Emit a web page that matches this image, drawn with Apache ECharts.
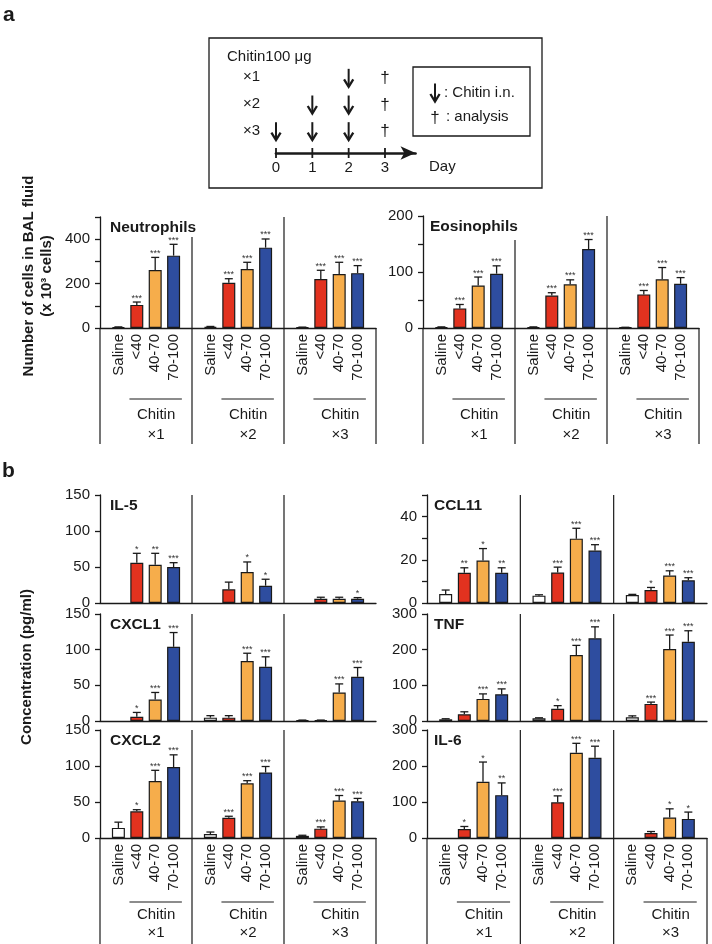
<!DOCTYPE html>
<html><head><meta charset="utf-8">
<script src="https://cdn.jsdelivr.net/npm/echarts@6/dist/echarts.min.js"></script>
<style>html,body{margin:0;padding:0;background:#fff}#c{width:712px;height:944px}</style>
</head><body><div id="c"></div>
<script>
// ---------- data ----------
const categories = ['Saline', '<40', '40-70', '70-100'];
const groupLabels = ['×1', '×2', '×3'];
const barColors = ['#ffffff', '#e2321f', '#f6ad4b', '#2e4d9f'];

// schematic
const rowLabels = ['×1', '×2', '×3'];
const injectionDays = [[2], [1, 2], [0, 1, 2]];
const analysisDay = 3;
const dayTicks = [0, 1, 2, 3];

// panel a (x10^3 cells)
const neutroMean = [4, 104, 261, 326, 5, 204, 266, 362, 3, 221, 243, 247];
const neutroErr  = [1, 13, 57, 51, 2, 18, 30, 39, 1, 39, 53, 34];
const neutroStars = ['', '***', '***', '***', '', '***', '***', '***', '', '***', '***', '***'];

const eosinoMean = [1.5, 35, 76, 97, 1.5, 58, 78, 141, 1, 60, 87, 79];
const eosinoErr  = [0.5, 7, 15, 14, 0.5, 5, 8, 17, 0.3, 7, 21, 11];
const eosinoStars = ['', '***', '***', '***', '', '***', '***', '***', '', '***', '***', '***'];

// panel b (pg/ml)
const il5Mean = [null, 56, 53, 50, null, 19, 43, 24, null, 6, 6, 6];
const il5Err  = [0, 13, 16, 6, 0, 10, 14, 9, 0, 2, 2, 1.5];
const il5Stars = ['', '*', '**', '***', '', '', '*', '*', '', '', '', '*'];

const ccl11Mean = [4.2, 14, 19.7, 14, 3.4, 14.1, 29.8, 24.3, 3.7, 6, 12.7, 10.5];
const ccl11Err  = [1.8, 2.3, 5.5, 2.3, 0.4, 2.5, 4.8, 2.7, 0.3, 1.2, 2.2, 1.2];
const ccl11Stars = ['', '**', '*', '**', '', '***', '***', '***', '', '*', '***', '***'];

const cxcl1Mean = [null, 6, 30, 104, 4.7, 4.7, 84, 76, 1, 1, 40, 62];
const cxcl1Err  = [0, 6, 10, 20, 2.8, 2.8, 11, 14, 0.3, 0.3, 12, 13];
const cxcl1Stars = ['', '*', '***', '***', '', '', '***', '***', '', '', '***', '***'];

const tnfMean = [4.8, 18.8, 62, 75, 7.5, 34, 185, 232, 10.4, 48, 202, 222];
const tnfErr  = [1.5, 7, 14, 15, 1.5, 9, 27, 32, 4, 5, 39, 31];
const tnfStars = ['', '', '***', '***', '', '*', '***', '***', '', '***', '***', '***'];

const cxcl2Mean = [14, 37, 79, 98.5, 5.5, 28, 76, 91, 3, 13, 52, 51];
const cxcl2Err  = [8, 2.3, 15, 17, 2.8, 2.2, 3.6, 8.3, 0.8, 2.4, 7, 4];
const cxcl2Stars = ['', '*', '***', '***', '', '***', '***', '***', '', '***', '***', '***'];

const il6Mean = [null, 25, 156, 119, null, 99, 237, 223, null, 14, 57, 53];
const il6Err  = [0, 7, 55, 34, 0, 18, 26, 32, 0, 4, 24, 19];
const il6Stars = ['', '*', '*', '**', '', '***', '***', '***', '', '', '*', '*'];

// ---------- layout ----------
const FONT = "'Liberation Sans', Arial, Helvetica, sans-serif";
const INK = '#1a1a1a';

const panels = [
  {title:'Neutrophils', mean:neutroMean, err:neutroErr, stars:neutroStars, left:100, top:217, width:276, height:111, max:500, interval:100, labelStep:200, titleGap:20, xLabels:true, lineEnd:444, offs:[71, 87, 107]},
  {title:'Eosinophils', mean:eosinoMean, err:eosinoErr, stars:eosinoStars, left:423, top:216, width:276, height:112, max:200, interval:50, labelStep:100, titleGap:24, xLabels:true, lineEnd:444, offs:[71, 87, 107]},
  {title:'IL-5', mean:il5Mean, err:il5Err, stars:il5Stars, left:100, top:495, width:276, height:108, max:150, interval:50, labelStep:50, titleGap:0, xLabels:false},
  {title:'CCL11', mean:ccl11Mean, err:ccl11Err, stars:ccl11Stars, left:427, top:495, width:280, height:108, max:50, interval:10, labelStep:20, titleGap:0, xLabels:false},
  {title:'CXCL1', mean:cxcl1Mean, err:cxcl1Err, stars:cxcl1Stars, left:100, top:614, width:276, height:107, max:150, interval:50, labelStep:50, titleGap:0, xLabels:false},
  {title:'TNF', mean:tnfMean, err:tnfErr, stars:tnfStars, left:427, top:614, width:280, height:107, max:300, interval:100, labelStep:100, titleGap:0, xLabels:false},
  {title:'CXCL2', mean:cxcl2Mean, err:cxcl2Err, stars:cxcl2Stars, left:100, top:730, width:276, height:108, max:150, interval:50, labelStep:50, titleGap:0, xLabels:true, lineEnd:944, offs:[64, 77, 95]},
  {title:'IL-6', mean:il6Mean, err:il6Err, stars:il6Stars, left:427, top:730, width:280, height:108, max:300, interval:100, labelStep:100, titleGap:0, xLabels:true, lineEnd:944, offs:[64, 77, 95]}
];

function xPos(k) { return Math.floor(k / 4) * 5 + (k % 4) + 1; }

const grids = [], xAxes = [], yAxes = [], series = [], graphics = [];

panels.forEach((P, i) => {
  grids.push({left:P.left, top:P.top, width:P.width, height:P.height, containLabel:false});
  xAxes.push({
    gridIndex:i, type:'value', min:0, max:15, interval:1,
    axisLine:{show:true, onZero:false, lineStyle:{color:INK, width:1.3}},
    axisTick:{show:false}, splitLine:{show:false},
    axisLabel:{show:P.xLabels, rotate:90, margin:6, fontSize:15, fontFamily:FONT, color:INK, hideOverlap:false,
      formatter:(v) => { if (!Number.isInteger(v)) return ''; const j = v % 5 - 1; return (j >= 0 && j < 4) ? categories[j] : ''; }}
  });
  yAxes.push({
    gridIndex:i, type:'value', min:0, max:P.max, interval:P.interval,
    axisLine:{show:true, lineStyle:{color:INK, width:1.3}},
    axisTick:{show:true, length:5, lineStyle:{color:INK, width:1.3}},
    splitLine:{show:false},
    axisLabel:{margin:10, fontSize:15, fontFamily:FONT, color:INK,
      formatter:(v) => (v % P.labelStep === 0 ? String(v) : '')}
  });
  // bars
  series.push({
    type:'bar', xAxisIndex:i, yAxisIndex:i, barWidth:13, silent:true, z:2,
    itemStyle:{borderColor:INK, borderWidth:1.2},
    data:P.mean.map((v, k) => v == null ? null : {value:[xPos(k), v], itemStyle:{color:barColors[k % 4]}}).filter(d => d)
  });
  // error bars + significance
  series.push({
    type:'custom', xAxisIndex:i, yAxisIndex:i, silent:true, z:3,
    data:P.mean.map((v, k) => v == null ? null : [xPos(k), v, P.err[k], k]).filter(d => d),
    renderItem:(params, api) => {
      const x = api.value(0), m = api.value(1), e = api.value(2), k = api.value(3);
      const p0 = api.coord([x, m]), p1 = api.coord([x, m + e]);
      const ch = [];
      if (e > 0) {
        ch.push({type:'line', shape:{x1:p0[0], y1:p0[1], x2:p1[0], y2:p1[1]}, style:{stroke:INK, lineWidth:1.3}});
        ch.push({type:'line', shape:{x1:p1[0] - 4, y1:p1[1], x2:p1[0] + 4, y2:p1[1]}, style:{stroke:INK, lineWidth:1.3}});
      }
      const s = P.stars[k];
      if (s) ch.push({type:'text', x:p1[0], y:p1[1] - 4,
        style:{text:s, fontSize:9, fontFamily:FONT, fill:'#333', align:'center', verticalAlign:'middle'}});
      return {type:'group', children:ch};
    }
  });
  // frame: dividers, lines below axis, Chitin labels
  series.push({
    type:'custom', xAxisIndex:i, yAxisIndex:i, silent:true, z:4,
    data:[[0, 0], [1, 0], [2, 0]],
    renderItem:(params, api) => {
      const g = api.value(0);
      const ch = [];
      const ls = {stroke:INK, lineWidth:1.2};
      if (g < 2) {
        const xd = (g + 1) * 5;
        const t = api.coord([xd, P.max]), b = api.coord([xd, 0]);
        const y1 = t[1] + (g === 0 ? P.titleGap : 0);
        ch.push({type:'line', shape:{x1:t[0], y1:y1, x2:t[0], y2:b[1]}, style:ls});
      }
      if (P.xLabels) {
        const base = api.coord([0, 0])[1];
        const xs = g === 2 ? [5 * g, 15] : [5 * g];
        xs.forEach(xv => {
          const px = api.coord([xv, 0])[0];
          ch.push({type:'line', shape:{x1:px, y1:base, x2:px, y2:P.lineEnd}, style:ls});
        });
        const u1 = api.coord([5 * g + 1.6, 0])[0], u2 = api.coord([5 * g + 4.45, 0])[0];
        ch.push({type:'line', shape:{x1:u1, y1:base + P.offs[0], x2:u2, y2:base + P.offs[0]}, style:ls});
        const cx = api.coord([5 * g + 3.05, 0])[0];
        ch.push({type:'text', x:cx, y:base + P.offs[1], style:{text:'Chitin', fontSize:15, fontFamily:FONT, fill:INK, align:'center', verticalAlign:'middle'}});
        ch.push({type:'text', x:cx, y:base + P.offs[2], style:{text:groupLabels[g], fontSize:15, fontFamily:FONT, fill:INK, align:'center', verticalAlign:'middle'}});
      }
      return {type:'group', children:ch};
    }
  });
  graphics.push({type:'text', x:P.left + (P.left > 400 ? 7 : 10), y:P.top + 11,
    style:{text:P.title, fontSize:15.5, fontWeight:'bold', fontFamily:FONT, fill:INK, align:'left', verticalAlign:'middle'}});
});

// ---------- schematic (timeline) ----------
const SI = panels.length;
grids.push({left:276, top:64, width:139.5, height:80});
xAxes.push({
  gridIndex:SI, type:'value', min:0, max:3.84, interval:1, offset:9,
  axisLine:{show:true, symbol:['none', 'arrow'], symbolSize:[10, 15], lineStyle:{color:INK, width:2.7}},
  axisTick:{show:false}, splitLine:{show:false},
  axisLabel:{margin:7, fontSize:15, fontFamily:FONT, color:INK,
    formatter:(v) => (Number.isInteger(v) && v <= 3 ? String(v) : '')}
});
yAxes.push({
  gridIndex:SI, type:'category', data:rowLabels.slice().reverse(),
  axisLine:{show:false}, axisTick:{show:false}, splitLine:{show:false},
  axisLabel:{margin:16, fontSize:15, fontFamily:FONT, color:INK}
});

function downArrow(cx, cy) {
  return [
    {type:'line', shape:{x1:cx, y1:cy - 9.5, x2:cx, y2:cy + 8}, style:{stroke:INK, lineWidth:2}},
    {type:'polyline', shape:{points:[[cx - 4.6, cy + 1], [cx, cy + 8.5], [cx + 4.6, cy + 1]]}, style:{stroke:INK, lineWidth:2.3, fill:null}}
  ];
}

// day ticks
series.push({
  type:'custom', xAxisIndex:SI, yAxisIndex:SI, silent:true, z:5,
  data:dayTicks.map(d => [d, 0]),
  renderItem:(params, api) => {
    const px = api.coord([api.value(0), 0])[0];
    const ay = params.coordSys.y + params.coordSys.height + 9;
    return {type:'line', shape:{x1:px, y1:ay - 5, x2:px, y2:ay + 5}, style:{stroke:INK, lineWidth:1.8}};
  }
});
// injection arrows
const arrowData = [];
injectionDays.forEach((days, r) => days.forEach(d => arrowData.push([d, rowLabels[r]])));
series.push({
  type:'custom', xAxisIndex:SI, yAxisIndex:SI, silent:true, z:5,
  data:arrowData,
  renderItem:(params, api) => {
    const p = api.coord([api.value(0), api.value(1)]);
    return {type:'group', children:downArrow(p[0], p[1] + 1)};
  }
});
// analysis daggers
series.push({
  type:'custom', xAxisIndex:SI, yAxisIndex:SI, silent:true, z:5,
  data:rowLabels.map(r => [analysisDay, r]),
  renderItem:(params, api) => {
    const p = api.coord([api.value(0), api.value(1)]);
    return {type:'text', x:p[0], y:p[1] + 1, style:{text:'†', fontSize:17, fontFamily:FONT, fill:INK, align:'center', verticalAlign:'middle'}};
  }
});

// static layout graphics
graphics.push(
  {type:'text', x:3, y:15, style:{text:'a', fontSize:21, fontWeight:'bold', fontFamily:FONT, fill:INK, align:'left', verticalAlign:'middle'}},
  {type:'text', x:2, y:471, style:{text:'b', fontSize:21, fontWeight:'bold', fontFamily:FONT, fill:INK, align:'left', verticalAlign:'middle'}},
  {type:'rect', shape:{x:209, y:38, width:333, height:150}, style:{fill:'none', stroke:INK, lineWidth:1.3}},
  {type:'rect', shape:{x:413, y:67, width:117, height:69}, style:{fill:'none', stroke:INK, lineWidth:1.3}},
  {type:'text', x:227, y:57, style:{text:'Chitin100 μg', fontSize:15, fontFamily:FONT, fill:INK, align:'left', verticalAlign:'middle'}},
  {type:'text', x:429, y:167, style:{text:'Day', fontSize:15, fontFamily:FONT, fill:INK, align:'left', verticalAlign:'middle'}},
  {type:'group', children:downArrow(435, 93)},
  {type:'text', x:444, y:93, style:{text:': Chitin i.n.', fontSize:15, fontFamily:FONT, fill:INK, align:'left', verticalAlign:'middle'}},
  {type:'text', x:435, y:118, style:{text:'†', fontSize:17, fontFamily:FONT, fill:INK, align:'center', verticalAlign:'middle'}},
  {type:'text', x:446, y:117, style:{text:': analysis', fontSize:15, fontFamily:FONT, fill:INK, align:'left', verticalAlign:'middle'}},
  {type:'text', x:29, y:276, rotation:Math.PI / 2, style:{text:'Number of cells in BAL fluid', fontSize:15, fontWeight:'bold', fontFamily:FONT, fill:INK, align:'center', verticalAlign:'middle'}},
  {type:'text', x:47, y:276, rotation:Math.PI / 2, style:{text:'(x 10³ cells)', fontSize:15, fontWeight:'bold', fontFamily:FONT, fill:INK, align:'center', verticalAlign:'middle'}},
  {type:'text', x:27, y:667, rotation:Math.PI / 2, style:{text:'Concentration (pg/ml)', fontSize:15, fontWeight:'bold', fontFamily:FONT, fill:INK, align:'center', verticalAlign:'middle'}}
);

const chart = echarts.init(document.getElementById('c'), null, {renderer:'canvas'});
chart.setOption({
  animation:false,
  backgroundColor:'#ffffff',
  textStyle:{fontFamily:FONT},
  grid:grids, xAxis:xAxes, yAxis:yAxes, series:series, graphic:graphics
});
</script>
</body></html>
